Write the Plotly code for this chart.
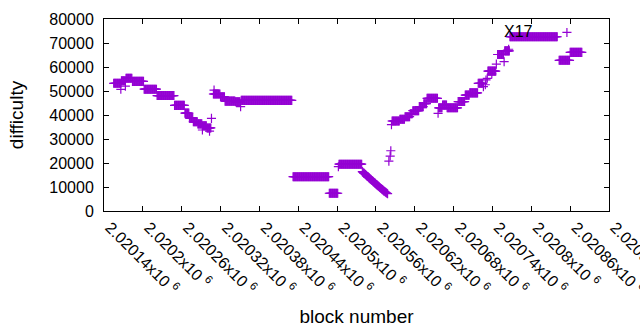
import plotly.graph_objects as go

COLOR = "#9400D3"

# flat runs of identical difficulty: first block, last block, difficulty
run_first = [2020155, 2020167, 2020174, 2020184, 2020202, 2020222, 2020249, 2020265, 2020272,
             2020278, 2020285, 2020292, 2020299, 2020309, 2020320, 2020327, 2020343, 2020352,
             2020432, 2020488, 2020503, 2020585, 2020597, 2020605, 2020613, 2020617, 2020627,
             2020634, 2020639, 2020657, 2020663, 2020670, 2020687, 2020698, 2020705, 2020718,
             2020733, 2020748, 2020759, 2020767, 2020843, 2020860]
run_last = [2020166, 2020173, 2020183, 2020201, 2020221, 2020248, 2020264, 2020271, 2020277,
            2020284, 2020291, 2020298, 2020305, 2020319, 2020326, 2020342, 2020350, 2020430,
            2020487, 2020501, 2020538, 2020596, 2020604, 2020612, 2020616, 2020626, 2020633,
            2020638, 2020655, 2020662, 2020669, 2020686, 2020697, 2020704, 2020717, 2020725,
            2020745, 2020757, 2020766, 2020840, 2020859, 2020878]
run_value = [53200, 54300, 55300, 54000, 50750, 48100, 44000, 40800, 38700,
             37200, 36300, 35500, 34600, 48750, 47600, 45800, 45500, 46100,
             14300, 7400, 19500, 37500, 38200, 39300, 40500, 41800, 43500,
             44700, 46950, 43000, 44100, 43000, 45600, 48300, 49200, 53200,
             58300, 65200, 66700, 72600, 62800, 66100]

# block-by-block decline after the 19500 plateau
decline_first_block = 2020539
decline_values = [16400, 16100, 15800, 15700, 15400, 15200, 14900, 14600, 14400, 14200,
                  13900, 13700, 13400, 13200, 12900, 12700, 12500, 12200, 12000, 11700,
                  11500, 11200, 11000, 10800, 10500, 10300, 10100, 9800, 9600, 9400,
                  9100, 8900, 8700, 8400, 8200, 8000, 7800, 7600, 7400, 7200]

# isolated points
single_block = [2020166, 2020173, 2020292, 2020303, 2020306, 2020310, 2020351, 2020502,
                2020580, 2020582, 2020583, 2020584, 2020656, 2020726, 2020729, 2020730,
                2020732, 2020739, 2020746, 2020757, 2020758, 2020765, 2020855]
single_value = [50700, 52000, 33750, 33300, 38600, 50400, 43500, 18460,
                20800, 22900, 25100, 36000, 40700, 51800, 52600, 54600,
                55300, 57100, 61200, 65400, 62200, 67400, 74400]

x_tick_vals = [2020140 + 60 * k for k in range(14)]
x_tick_text = ["2.02014", "2.0202", "2.02026", "2.02032", "2.02038", "2.02044", "2.0205",
               "2.02056", "2.02062", "2.02068", "2.02074", "2.0208", "2.02086", "2.02092"]
y_tick_vals = [0, 10000, 20000, 30000, 40000, 50000, 60000, 70000, 80000]

label_text = "X17"
label_x = 2020780
label_y = 74600

xs, ys = [], []
for a, b, v in zip(run_first, run_last, run_value):
    for blk in range(a, b + 1):
        xs.append(blk)
        ys.append(v)
for i, v in enumerate(decline_values):
    xs.append(decline_first_block + i)
    ys.append(v)
xs += single_block
ys += single_value

fig = go.Figure()
fig.add_trace(go.Scatter(
    x=xs, y=ys, mode="markers", cliponaxis=False,
    marker=dict(symbol="cross-thin", size=6.5, color=COLOR, line=dict(width=1.2, color=COLOR)),
    showlegend=False, hoverinfo="skip"))

fig.add_annotation(x=label_x, y=label_y, text=label_text, showarrow=False,
                   font=dict(size=16, color="black"), xanchor="center", yanchor="middle")

axis_common = dict(showline=True, linecolor="black", linewidth=1, mirror="allticks",
                   ticks="inside", ticklen=5, tickcolor="black", showgrid=False,
                   zeroline=False, automargin=False, tickfont=dict(size=16, color="black"))

fig.update_layout(
    width=640, height=330,
    margin=dict(l=104, r=31, t=19, b=119),
    paper_bgcolor="white", plot_bgcolor="white",
    font=dict(family="Liberation Sans, Arial, sans-serif", size=16, color="black"),
    xaxis=dict(range=[2020140, 2020920], tickvals=x_tick_vals,
               ticktext=[t + "x10 <sup>6</sup>" for t in x_tick_text],
               tickangle=45, ticklabeloverflow="allow", ticklabelshift=6,
               title=dict(text="block number", standoff=13), **axis_common),
    yaxis=dict(range=[0, 80000], tickvals=y_tick_vals,
               ticktext=[str(v) for v in y_tick_vals], ticklabelstandoff=6,
               title=dict(text="difficulty", standoff=20), **axis_common),
)

fig.write_html("out.html", config={"displayModeBar": False},
               post_script="document.body.style.margin='0';document.body.style.padding='0';")
